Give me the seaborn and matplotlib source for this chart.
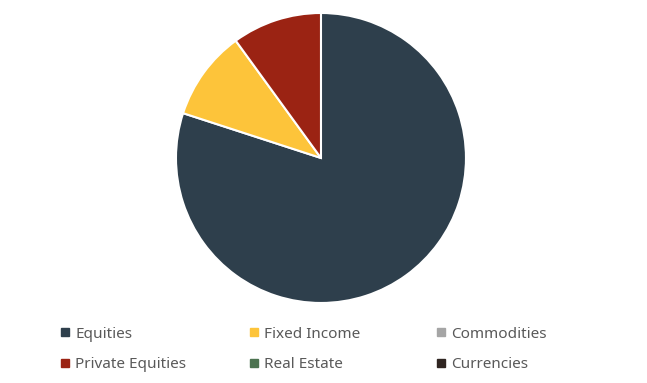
import matplotlib
matplotlib.use("Agg")
import matplotlib.pyplot as plt
from matplotlib.lines import Line2D
import seaborn as sns

categories = ["Equities", "Fixed Income", "Commodities", "Private Equities", "Real Estate", "Currencies"]
values = [80, 10, 0, 10, 0, 0]
colors = ["#2E3F4C", "#FDC43A", "#A5A5A5", "#9B2313", "#4C7350", "#2F2521"]

sns.set_theme(style="white")
plt.rcParams["font.family"] = ["Noto Sans", "DejaVu Sans"]

fig = plt.figure(figsize=(6.47, 3.83), dpi=100)
fig.patch.set_facecolor("white")
ax = fig.add_axes([0.272, 0.2089, 0.4482, 0.7572])

pv = [v for v in values if v > 0]
pc = [c for v, c in zip(values, colors) if v > 0]
ax.pie(pv, colors=pc, startangle=90, counterclock=False, radius=1,
       wedgeprops=dict(edgecolor="white", linewidth=1.5))
ax.set_xlim(-1.0, 1.0)
ax.set_ylim(-1.0, 1.0)
ax.set_aspect("equal")
ax.axis("off")

# legend: 3 columns, row-major order
col_x = [0.093, 0.385, 0.674]
for ci in range(3):
    idxs = [ci, ci + 3]
    handles = [Line2D([0], [0], marker="s", linestyle="none", markersize=5.5,
                      markerfacecolor=colors[i], markeredgecolor=colors[i]) for i in idxs]
    labels = [categories[i] for i in idxs]
    fig.legend(handles, labels, loc="upper left", bbox_to_anchor=(col_x[ci], 0.147),
               frameon=False, fontsize=11, labelcolor="#595959", handlelength=0.6,
               handletextpad=0.4, labelspacing=1.0, borderpad=0, borderaxespad=0)

fig.savefig("out.png", dpi=100, facecolor="white")
